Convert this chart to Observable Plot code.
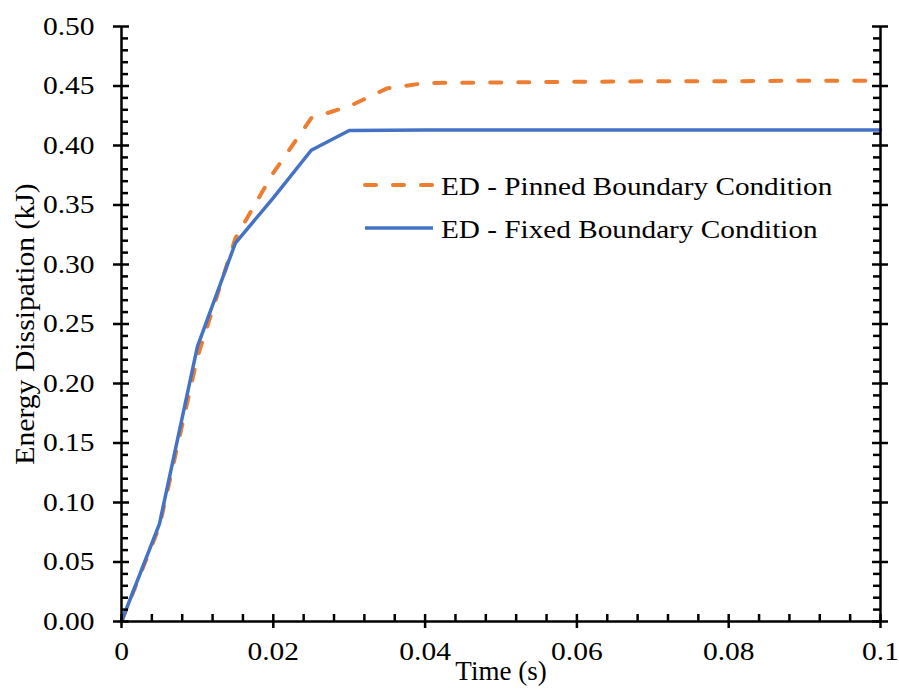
<!DOCTYPE html>
<html>
<head>
<meta charset="utf-8">
<script src="https://cdn.jsdelivr.net/npm/d3@7"></script>
<script src="https://cdn.jsdelivr.net/npm/@observablehq/plot@0.6"></script>
<style>
  html, body { margin: 0; padding: 0; background: #fff; }
  #chart { position: relative; width: 899px; height: 691px; }
</style>
</head>
<body>
<div id="chart"></div>
<script>
// ---- data ----
const time   = [0, 0.005, 0.01, 0.015, 0.02, 0.025, 0.03, 0.035, 0.04, 0.05, 0.06, 0.07, 0.08, 0.09, 0.1];
const pinned = [0, 0.080, 0.222, 0.322, 0.377, 0.423, 0.433, 0.448, 0.4525, 0.453, 0.4535, 0.454, 0.454, 0.4545, 0.4545];
const fixed  = [0, 0.082, 0.231, 0.318, 0.356, 0.396, 0.4126, 0.4128, 0.413, 0.413, 0.413, 0.413, 0.413, 0.413, 0.413];
const seriesNames = ["ED - Pinned Boundary Condition", "ED - Fixed Boundary Condition"];

const xMajor = [0, 0.02, 0.04, 0.06, 0.08, 0.1];
const xTickLabels = ["0", "0.02", "0.04", "0.06", "0.08", "0.1"];
const xMinor = [0.004, 0.008, 0.012, 0.016, 0.024, 0.028, 0.032, 0.036, 0.044, 0.048, 0.052, 0.056, 0.064, 0.068, 0.072, 0.076, 0.084, 0.088, 0.092, 0.096];
const yMajor = [0, 0.05, 0.1, 0.15, 0.2, 0.25, 0.3, 0.35, 0.4, 0.45, 0.5];
const yTickLabels = ["0.00", "0.05", "0.10", "0.15", "0.20", "0.25", "0.30", "0.35", "0.40", "0.45", "0.50"];
const yMinor = [0.01,0.02,0.03,0.04,0.06,0.07,0.08,0.09,0.11,0.12,0.13,0.14,0.16,0.17,0.18,0.19,0.21,0.22,0.23,0.24,0.26,0.27,0.28,0.29,0.31,0.32,0.33,0.34,0.36,0.37,0.38,0.39,0.41,0.42,0.43,0.44,0.46,0.47,0.48,0.49];
const xLabel = "Time (s)";
const yLabel = "Energy Dissipation (kJ)";

const pinnedData = time.map((t, i) => ({t, v: pinned[i]}));
const fixedData  = time.map((t, i) => ({t, v: fixed[i]}));

const ORANGE = "#ED7D31", BLUE = "#4472C4";
const FONT = "'Liberation Serif', 'Times New Roman', serif";
const AX = 2.5;

const svg = Plot.plot({
  width: 899, height: 691,
  marginLeft: 121, marginRight: 19, marginTop: 26, marginBottom: 70,
  x: {domain: [0, 0.1]},
  y: {domain: [0, 0.5]},
  style: {fontFamily: FONT, fontSize: "25px", color: "#000", background: "#fff", overflow: "visible"},
  marks: [
    // data lines
    Plot.line(pinnedData, {x: "t", y: "v", stroke: ORANGE, strokeWidth: 4, strokeDasharray: "11,17", strokeLinecap: "round", strokeLinejoin: "round"}),
    Plot.line(fixedData, {x: "t", y: "v", stroke: BLUE, strokeWidth: 3.5, strokeLinejoin: "round"}),
    // axis lines (left, right, bottom)
    Plot.ruleX([0, 0.1], {y1: 0, y2: 0.5, stroke: "#000", strokeWidth: AX}),
    Plot.ruleY([0], {x1: 0, x2: 0.1, stroke: "#000", strokeWidth: AX}),
    // left ticks
    Plot.ruleY(yMajor, {x1: 0, x2: 0, insetLeft: -8, insetRight: -8, stroke: "#000", strokeWidth: AX}),
    Plot.ruleY(yMinor, {x1: 0, x2: 0, insetRight: -7, stroke: "#000", strokeWidth: AX}),
    // right ticks
    Plot.ruleY(yMajor, {x1: 0.1, x2: 0.1, insetLeft: -8, insetRight: -8, stroke: "#000", strokeWidth: AX}),
    Plot.ruleY(yMinor, {x1: 0.1, x2: 0.1, insetLeft: -7, stroke: "#000", strokeWidth: AX}),
    // bottom ticks
    Plot.ruleX(xMajor, {y1: 0, y2: 0, insetTop: -7, insetBottom: -7, stroke: "#000", strokeWidth: AX}),
    Plot.ruleX(xMinor, {y1: 0, y2: 0, insetTop: -7, stroke: "#000", strokeWidth: AX}),
    // tick labels
    Plot.axisX(xMajor, {tickSize: 0, tickPadding: 21, tickFormat: d => xTickLabels[xMajor.indexOf(d)], label: null, fontSize: 25}),
    Plot.axisY(yMajor, {tickSize: 0, tickPadding: 27, tickFormat: d => yTickLabels[yMajor.indexOf(d)], label: null, fontSize: 25}),
    // axis titles
    Plot.text([xLabel], {frameAnchor: "bottom", lineAnchor: "middle", textAnchor: "middle", dy: 50, text: d => d, fontSize: 27, fill: "#000"}),
    Plot.text([yLabel], {frameAnchor: "left", lineAnchor: "middle", textAnchor: "middle", dx: -96, rotate: -90, text: d => d, fontSize: 27, fill: "#000"})
  ]
});

document.getElementById("chart").appendChild(svg);

// horizontal stretch of the serif text, to match the reference's wide glyphs
function stretch(el, sx, sy) {
  let t = el.getAttribute("transform");
  if (!t) {
    const x = +el.getAttribute("x") || 0, y = +el.getAttribute("y") || 0;
    el.removeAttribute("x"); el.removeAttribute("y");
    t = `translate(${x},${y})`;
  }
  el.setAttribute("transform", `${t} scale(${sx},${sy})`);
}
d3.select(svg).selectAll('g[aria-label="x-axis tick label"] text, g[aria-label="y-axis tick label"] text').each(function() { stretch(this, 1.18, 1); });
d3.select(svg).selectAll('g[aria-label="text"] text').each(function() {
  if (this.textContent === yLabel) stretch(this, 1.1, 1);
});

// legend
const lg = d3.select(svg).append("g").attr("font-family", FONT).attr("font-size", 25).attr("text-anchor", "start");
const legendItems = [
  {name: seriesNames[0], color: ORANGE, dash: "11,17", w: 4, y: 185},
  {name: seriesNames[1], color: BLUE, dash: null, w: 3.5, y: 228}
];
legendItems.forEach(it => {
  lg.append("line").attr("x1", 365).attr("x2", 433).attr("y1", it.y).attr("y2", it.y)
    .attr("stroke", it.color).attr("stroke-width", it.w)
    .attr("stroke-dasharray", it.dash).attr("stroke-linecap", it.dash ? "round" : "butt");
  lg.append("text").attr("transform", `translate(441,${it.y + 10}) scale(1.17,1)`)
    .attr("text-anchor", "start").attr("fill", "#000").text(it.name);
});
</script>
</body>
</html>
